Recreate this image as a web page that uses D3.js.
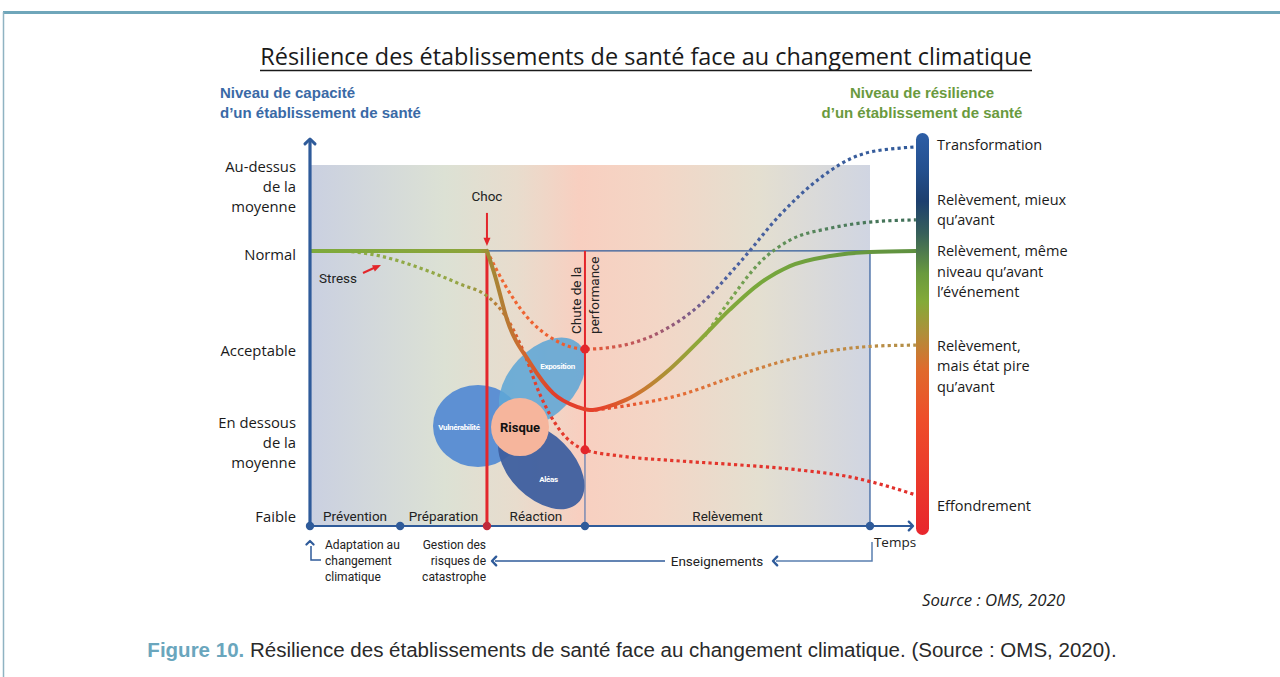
<!DOCTYPE html>
<html>
<head>
<meta charset="utf-8">
<script src="https://cdn.jsdelivr.net/npm/d3@7"></script>
<style>
  body { margin: 0; background: #fff; }
  svg { display: block; }
</style>
</head>
<body>
<svg id="chart" width="1280" height="677"></svg>
<script>
// ---- data ----
// capacity axis : 0 = faible ... 100 = top of the shaded zone
const levelLabels = [['Au-dessus', 'de la', 'moyenne'], ['Normal'], ['Acceptable'], ['En dessous', 'de la', 'moyenne'], ['Faible']];
const levelValues = [94, 75, 48.5, 23, 2.5];
const NORMAL = 76.2;

// time axis : 0 = start, 100 = end of the recovery box
const phaseNames = ['Prévention', 'Préparation', 'Réaction', 'Relèvement'];
const phaseBounds = [0, 16.1, 31.6, 49.1, 100];
const CHOC = 31.6, PERF = 49.1, BAR = 108.2;

// resilience outcomes (right scale)
const outcomeLabels = [['Transformation'], ['Relèvement, mieux', 'qu\u2019avant'], ['Relèvement, même', 'niveau qu\u2019avant', 'l\u2019événement'], ['Relèvement,', 'mais état pire', 'qu\u2019avant'], ['Effondrement']];
const outcomeValues = [105.5, 87.5, 70.4, 44.3, 5.5];

// curves [time, level]
const mainFlat = [[0, 76.2], [31.6, 76.2]];
const mainCurve = [[31.6, 76.2], [33, 69.5], [35.2, 57.1], [39.3, 45.2], [43.4, 36.8], [47.7, 33.0], [50.0, 32.1],
  [53.0, 33.0], [56.5, 35.0], [59.8, 38.0], [64.3, 43.5], [69.6, 51.5], [75.0, 60.0], [80.4, 67.3], [85.7, 72.0],
  [92.9, 74.8], [100, 75.9], [108.2, 76.2]];
const stressCurve = [[6.25, 76.2], [12.5, 74.8], [19.6, 71.5], [26.8, 67.0], [31.6, 63.7], [34.8, 58.4], [38.0, 48.8],
  [41.1, 36.3], [44.6, 26.6], [49.1, 21.1], [55.4, 19.4], [66.1, 18.0], [76.8, 16.9], [87.5, 15.5], [96.4, 13.6],
  [103.6, 10.8], [108.2, 8.6]];
const transformCurve = [[31.6, 76.2], [34.8, 66.8], [38.75, 57.9], [43.75, 51.5], [49.1, 49.0], [55.4, 49.9],
  [62.5, 53.7], [69.6, 61.2], [76.8, 73.1], [83.9, 86.1], [91.1, 96.4], [98.2, 102.8], [105.4, 104.7], [108.2, 105.0]];
const worseCurve = [[50.9, 32.1], [57.1, 33.5], [66.1, 36.3], [75.0, 41.0], [83.9, 45.4], [92.9, 48.5], [101.8, 49.9], [108.2, 50.1]];
const betterCurve = [[70.5, 52.6], [75.0, 62.6], [80.4, 73.1], [85.7, 79.2], [92.9, 82.5], [100, 84.2], [108.2, 84.8]];
const perfDots = [49.0, 21.1];

const vennLabels = ['Vulnérabilité', 'Exposition', 'Aléas', 'Risque'];

// ---- scales ----
const svg = d3.select('#chart');
const x = d3.scaleLinear().domain([0, 100]).range([310, 870]);
const y = d3.scaleLinear().domain([0, 100]).range([526, 165]);
const line = d3.line().x(d => x(d[0])).y(d => y(d[1]));
const smooth = d3.line().x(d => x(d[0])).y(d => y(d[1])).curve(d3.curveMonotoneX);

const defs = svg.append('defs');
const BLUE = '#2f5b9a', RED = '#e3262b';

function xGradient(id, stops) {
  const g = defs.append('linearGradient').attr('id', id).attr('gradientUnits', 'userSpaceOnUse')
    .attr('x1', x(0)).attr('x2', x(BAR)).attr('y1', 0).attr('y2', 0);
  stops.forEach(s => g.append('stop').attr('offset', (x(s[0]) - x(0)) / (x(BAR) - x(0))).attr('stop-color', s[1]));
}

function chevron(g, px, py, dir, s, color, w) {
  const a = dir * Math.PI / 180, b = 0.8;
  const p1 = [px - s * Math.cos(a - b), py - s * Math.sin(a - b)];
  const p2 = [px - s * Math.cos(a + b), py - s * Math.sin(a + b)];
  g.append('path').attr('d', `M${p1}L${px},${py}L${p2}`).attr('fill', 'none')
    .attr('stroke', color).attr('stroke-width', w).attr('stroke-linecap', 'round').attr('stroke-linejoin', 'round');
}

function head(g, px, py, dir, s, color) {
  const a = dir * Math.PI / 180, b = 0.4;
  const p1 = [px - s * Math.cos(a - b), py - s * Math.sin(a - b)];
  const p2 = [px - s * Math.cos(a + b), py - s * Math.sin(a + b)];
  g.append('path').attr('d', `M${p1}L${px},${py}L${p2}Z`).attr('fill', color);
}

function fitText(sel, size, width) {
  const w = sel.node().getComputedTextLength();
  sel.style('font-size', (size * width / w) + 'px');
}

// frame
svg.append('line').attr('x1', 3).attr('x2', 1280).attr('y1', 12.5).attr('y2', 12.5).attr('stroke', '#6fa6ba').attr('stroke-width', 3);
svg.append('line').attr('x1', 3.5).attr('x2', 3.5).attr('y1', 12).attr('y2', 677).attr('stroke', '#8fb3c2').attr('stroke-width', 1.5);

// title
const title = svg.append('text').attr('x', 646).attr('y', 65).attr('text-anchor', 'middle')
  .style('font-family', 'Open Sans').style('font-size', '21px').style('fill', '#1a1a1a')
  .text('Résilience des établissements de santé face au changement climatique');
fitText(title, 21, 772);
svg.append('line').attr('x1', 260).attr('x2', 1032).attr('y1', 70.5).attr('y2', 70.5).attr('stroke', '#1a1a1a').attr('stroke-width', 1.3);

// axis headers
const hdrL = svg.append('text').attr('x', 220).style('font-family', 'Liberation Sans').style('font-weight', 'bold')
  .style('font-size', '15px').style('fill', '#3a6aa6');
['Niveau de capacité', 'd\u2019un établissement de santé'].forEach((t, i) => hdrL.append('tspan').attr('x', 220).attr('y', 98 + i * 20).text(t));
const hdrR = svg.append('text').attr('text-anchor', 'middle').style('font-family', 'Liberation Sans').style('font-weight', 'bold')
  .style('font-size', '15px').style('fill', '#6a9a3e');
['Niveau de résilience', 'd\u2019un établissement de santé'].forEach((t, i) => hdrR.append('tspan').attr('x', 922).attr('y', 98 + i * 20).text(t));

// shaded background
xGradient('bgGrad', [[0, '#cad0e1'], [24, '#dce1d4'], [37, '#e8dccd'], [48, '#f8cfc0'], [62, '#f3d6c6'], [80, '#e4dfd0'], [100, '#d0d5e2']]);
svg.append('rect').attr('x', x(0)).attr('y', y(100)).attr('width', x(100) - x(0)).attr('height', y(0) - y(100)).attr('fill', 'url(#bgGrad)');

// recovery box outline
svg.append('path').attr('d', line([[CHOC, NORMAL], [100, NORMAL], [100, 0]])).attr('fill', 'none').attr('stroke', BLUE).attr('stroke-width', 1.2);
svg.append('path').attr('d', line([[PERF, perfDots[1]], [PERF, 0]])).attr('fill', 'none').attr('stroke', '#5a78b0').attr('stroke-width', 1.2);

// Venn diagram
const venn = svg.append('g');
venn.append('ellipse').attr('cx', x(30)).attr('cy', y(27.7)).attr('rx', 45).attr('ry', 41).attr('fill', '#5d90d3');
venn.append('ellipse').attr('transform', `translate(${x(41.3)},${y(16.6)}) rotate(45)`).attr('rx', 52).attr('ry', 32).attr('fill', '#3e5f9f').attr('fill-opacity', 0.95);
venn.append('ellipse').attr('transform', `translate(${x(41.5)},${y(39.8)}) rotate(-47)`).attr('rx', 53).attr('ry', 33).attr('fill', '#5fa6d6').attr('fill-opacity', 0.88);
venn.append('circle').attr('cx', x(37.5)).attr('cy', y(27.4)).attr('r', 29).attr('fill', '#f6b59c');
const vennText = [[26.6, 27.4], [44.2, 44.2], [42.6, 13.0]];
vennText.forEach((p, i) => venn.append('text').attr('x', x(p[0])).attr('y', y(p[1])).attr('dy', '0.35em').attr('text-anchor', 'middle')
  .style('font-family', 'Roboto').style('font-size', '8px').style('font-weight', 'bold').style('letter-spacing', '-0.3px')
  .style('fill', '#fff').text(vennLabels[i]));
venn.append('text').attr('x', x(37.5)).attr('y', y(27.4)).attr('dy', '0.35em').attr('text-anchor', 'middle')
  .style('font-family', 'Roboto').style('font-size', '13px').style('font-weight', 'bold').style('fill', '#111').text(vennLabels[3]);

// vertical markers
svg.append('path').attr('d', line([[CHOC, NORMAL], [CHOC, 0]])).attr('stroke', RED).attr('stroke-width', 3);
svg.append('path').attr('d', line([[PERF, NORMAL], [PERF, perfDots[1]]])).attr('stroke', RED).attr('stroke-width', 2);

// dotted scenario curves
xGradient('gStress', [[0, '#8ab04a'], [26, '#94a645'], [31.6, '#a48f3c'], [36, '#d9652f'], [41, '#e43a2c'], [108.2, '#e2302c']]);
xGradient('gTrans', [[31.6, '#f06a34'], [49, '#ec5a30'], [58, '#c0565a'], [66, '#8a5a80'], [74, '#4d62a0'], [108.2, '#2f5a9a']]);
xGradient('gWorse', [[50, '#e8452c'], [65, '#e66a34'], [85, '#c98540'], [108.2, '#b39048']]);
xGradient('gBetter', [[70, '#8ab04a'], [80, '#6a9a55'], [93, '#4f7e5c'], [108.2, '#3f6f58']]);
[[stressCurve, 'gStress'], [transformCurve, 'gTrans'], [worseCurve, 'gWorse'], [betterCurve, 'gBetter']].forEach(c => {
  svg.append('path').attr('d', smooth(c[0])).attr('fill', 'none').attr('stroke', `url(#${c[1]})`)
    .attr('stroke-width', 3.2).attr('stroke-dasharray', '3.2,3.2');
});

// main performance curve
xGradient('gMain', [[0, '#7eaa3c'], [30, '#8ca43a'], [32, '#a08a36'], [38, '#cf6a30'], [44, '#e23c2b'], [52, '#e5432b'],
  [58, '#d2722f'], [63, '#b08f35'], [69, '#8ea83a'], [80, '#78a83c'], [108.2, '#5e9040']]);
svg.append('path').attr('d', line(mainFlat)).attr('fill', 'none').attr('stroke', 'url(#gMain)').attr('stroke-width', 4);
svg.append('path').attr('d', smooth(mainCurve)).attr('fill', 'none').attr('stroke', 'url(#gMain)').attr('stroke-width', 4).attr('stroke-linecap', 'round');

// drop markers
perfDots.forEach(v => svg.append('circle').attr('cx', x(PERF)).attr('cy', y(v)).attr('r', 4.5).attr('fill', RED));

// Choc
svg.append('text').attr('x', x(CHOC)).attr('y', y(NORMAL) - 50).attr('text-anchor', 'middle')
  .style('font-family', 'Roboto').style('font-size', '13.5px').style('fill', '#222').text('Choc');
svg.append('line').attr('x1', x(CHOC)).attr('x2', x(CHOC)).attr('y1', y(NORMAL) - 38).attr('y2', y(NORMAL) - 9).attr('stroke', RED).attr('stroke-width', 2);
head(svg, x(CHOC), y(NORMAL) - 5, 90, 9, RED);

// Stress
svg.append('text').attr('x', 319).attr('y', 283).style('font-family', 'Roboto').style('font-size', '13.5px').style('fill', '#222').text('Stress');
svg.append('line').attr('x1', 363).attr('y1', 273).attr('x2', 376).attr('y2', 267).attr('stroke', RED).attr('stroke-width', 2);
head(svg, 381, 265, -24, 9, RED);

// Chute de la performance
['Chute de la', 'performance'].forEach((t, i) => svg.append('text')
  .attr('transform', `translate(${x(PERF) - 4 + i * 18},${y(NORMAL) + 83}) rotate(-90)`)
  .style('font-family', 'Roboto').style('font-size', '13.5px').style('fill', '#222').text(t));

// axes
svg.append('line').attr('x1', x(0)).attr('x2', x(0)).attr('y1', y(0)).attr('y2', 141).attr('stroke', BLUE).attr('stroke-width', 3.2);
chevron(svg, x(0), 139, -90, 7, BLUE, 3);
svg.append('line').attr('x1', x(0)).attr('x2', 912).attr('y1', y(0)).attr('y2', y(0)).attr('stroke', BLUE).attr('stroke-width', 2.2);
chevron(svg, 913, y(0), 0, 6, BLUE, 2.4);
phaseBounds.forEach((b, i) => svg.append('circle').attr('cx', x(b)).attr('cy', y(0)).attr('r', 4.2)
  .attr('fill', i === 2 ? '#c02a3a' : BLUE));

// level labels
levelLabels.forEach((lines, i) => {
  const t = svg.append('text').attr('text-anchor', 'end').style('font-family', 'Open Sans').style('font-size', '14.8px').style('fill', '#1a1a1a');
  const y0 = y(levelValues[i]) - (lines.length - 1) * 10 + 5;
  lines.forEach((s, j) => t.append('tspan').attr('x', 296).attr('y', y0 + j * 20).text(s));
});

// phase labels
phaseNames.forEach((n, i) => svg.append('text').attr('x', x((phaseBounds[i] + phaseBounds[i + 1]) / 2)).attr('y', 521)
  .attr('text-anchor', 'middle').style('font-family', 'Roboto').style('font-size', '13.5px').style('fill', '#222').text(n));

// below-axis notes
const notes = svg.append('g').style('font-family', 'Roboto').style('font-size', '12px').style('fill', '#222');
const nl = notes.append('text');
['Adaptation au', 'changement', 'climatique'].forEach((s, j) => nl.append('tspan').attr('x', 325).attr('y', 549 + j * 16).text(s));
const nr = notes.append('text').attr('text-anchor', 'end');
['Gestion des', 'risques de', 'catastrophe'].forEach((s, j) => nr.append('tspan').attr('x', 486).attr('y', 549 + j * 16).text(s));
svg.append('path').attr('d', `M${x(0) + 1},546V560H321`).attr('fill', 'none').attr('stroke', BLUE).attr('stroke-width', 1.5);
chevron(svg, x(0), 541, -90, 5, BLUE, 2.2);

svg.append('text').attr('x', 895).attr('y', 547).attr('text-anchor', 'middle').style('font-family', 'Open Sans').style('font-size', '13.5px').style('fill', '#222').text('Temps');
svg.append('path').attr('d', `M${x(100) + 2},542V561H776`).attr('fill', 'none').attr('stroke', '#5a7fb0').attr('stroke-width', 1.5);
chevron(svg, 773, 561, 180, 6, BLUE, 2.4);
svg.append('text').attr('x', 717).attr('y', 565.5).attr('text-anchor', 'middle').style('font-family', 'Roboto').style('font-size', '13.5px').style('fill', '#222').text('Enseignements');
svg.append('line').attr('x1', 665).attr('x2', 495).attr('y1', 561).attr('y2', 561).attr('stroke', BLUE).attr('stroke-width', 1.5);
chevron(svg, 492, 561, 180, 6, BLUE, 2.4);

// resilience colour bar
const cg = defs.append('linearGradient').attr('id', 'barGrad').attr('x1', 0).attr('x2', 0).attr('y1', 0).attr('y2', 1);
[[0, '#2d5ea6'], [0.09, '#24508f'], [0.17, '#1d3f6e'], [0.25, '#37605a'], [0.35, '#6a9a3e'], [0.42, '#84aa38'],
 [0.5, '#b08e3a'], [0.59, '#e06a2c'], [0.71, '#ee4e2a'], [1, '#e8262d']].forEach(s => cg.append('stop').attr('offset', s[0]).attr('stop-color', s[1]));
svg.append('rect').attr('x', 916).attr('y', 133).attr('width', 13).attr('height', 402).attr('rx', 6.5).attr('fill', 'url(#barGrad)');

outcomeLabels.forEach((lines, i) => {
  const t = svg.append('text').style('font-family', 'Open Sans').style('font-size', '14.5px').style('fill', '#1a1a1a');
  const y0 = y(outcomeValues[i]) - (lines.length - 1) * 10.25 + 5;
  lines.forEach((s, j) => t.append('tspan').attr('x', 937).attr('y', y0 + j * 20.5).text(s));
});

// source + caption
const src = svg.append('text').attr('x', 922).attr('y', 606)
  .style('font-family', 'Open Sans').style('font-style', 'italic')
  .style('font-size', '14px').style('fill', '#222').text('Source : OMS, 2020');
fitText(src, 14, 143);
const cap = svg.append('text').attr('x', 632).attr('y', 657).attr('text-anchor', 'middle')
  .style('font-family', 'Liberation Sans').style('font-size', '18px').style('fill', '#2a2a2a');
cap.append('tspan').style('font-weight', 'bold').style('fill', '#6aa6bd').text('Figure 10.');
cap.append('tspan').text(' Résilience des établissements de santé face au changement climatique. (Source : OMS, 2020).');
fitText(cap, 18, 970);
</script>
</body>
</html>
